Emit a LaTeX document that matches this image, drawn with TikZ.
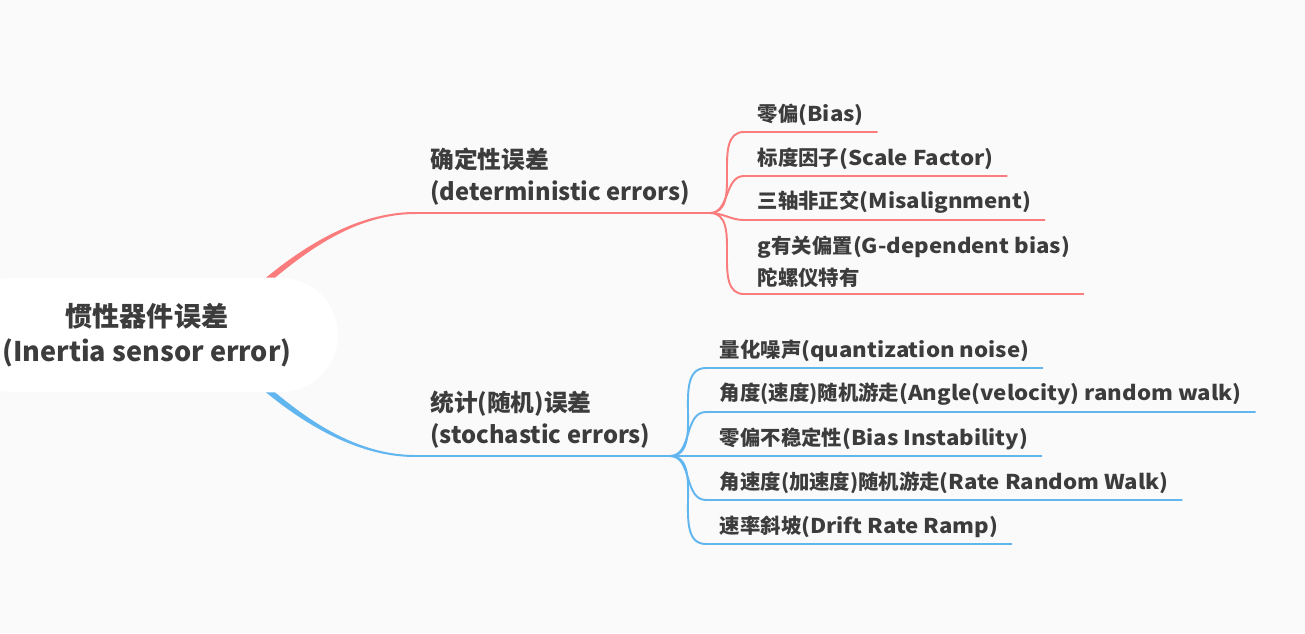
\documentclass[tikz,border=0pt]{standalone}
\usepackage{fontspec}
\setmainfont{Noto Sans CJK SC}
\newfontfamily\widelat{Noto Sans CJK SC}[FakeStretch=1.09]
\newcommand{\latw}[1]{{\widelat #1}}
\usetikzlibrary{calc}

\definecolor{bgc}{RGB}{250,250,250}
\definecolor{redc}{RGB}{250,124,124}
\definecolor{bluec}{RGB}{98,182,240}
\definecolor{txtc}{RGB}{60,60,60}

\tikzset{
  rootnode/.style={fill=white, rounded corners=1.14cm, minimum width=7.64cm, minimum height=2.28cm,
    align=center, text=txtc, font=\fontsize{15.4}{19.8}\selectfont\bfseries},
  branchnode/.style={anchor=south west, align=left, inner xsep=0.3cm, inner ysep=0.14cm,
    text=txtc, font=\fontsize{13.5}{18.1}\selectfont\bfseries},
  leafnode/.style={anchor=south west, align=left, inner xsep=0.27cm, inner ysep=0.12cm,
    text=txtc, font=\fontsize{11.6}{18.1}\selectfont\bfseries},
  redline/.style={draw=redc, line width=1.1pt},
  blueline/.style={draw=bluec, line width=1.1pt}
}

\begin{document}
\begin{tikzpicture}[x=0.02cm, y=-0.02cm]
        \useasboundingbox (0,0) rectangle (1305,633);
        \fill[bgc] (0,0) rectangle (1305,633);

        % Root topic
        \node[rootnode] (root) at (147,335) {惯性器件误差\\(Inertia sensor error)};

        % Main branches
        \node[branchnode] (det) at (415,213) {确定性误差\\(deterministic errors)};
        \node[branchnode] (sto) at (415,456) {统计(随机)误差\\(stochastic errors)};
        \coordinate (forkA) at (710,213);
        \coordinate (forkB) at (670,456);

        % Tapered links from the root
        \path (root.north) ++(119,0) coordinate (ra1) ++(9,0) coordinate (ra2);
        \path (root.south) ++(119,0) coordinate (rb1) ++(9,0) coordinate (rb2);
        \fill[redc] (ra1) .. controls +(34,-28) and +(-60,0) .. ($(det.south west)+(0,-1)$)
            -- ($(det.south west)+(0,1)$) .. controls +(-58,0) and +(34,-28) .. (ra2) -- cycle;
        \fill[bluec] (rb1) .. controls +(34,28) and +(-60,0) .. ($(sto.south west)+(0,1)$)
            -- ($(sto.south west)+(0,-1)$) .. controls +(-58,0) and +(34,28) .. (rb2) -- cycle;
        \draw[redline] (det.south west) -- (forkA);
        \draw[blueline] (sto.south west) -- (forkB);

        % Deterministic errors
        \node[leafnode] (bias) at (744,132) {零偏\latw{(Bias)}};
        \node[leafnode] (scale) at (744,176) {标度因子\latw{(Scale Factor)}};
        \node[leafnode] (misal) at (744,220) {三轴非正交\latw{(Misalignment)}};
        \node[leafnode] (gdep) at (744,294) {\latw{g}有关偏置\latw{(G-dependent bias)}\\陀螺仪特有};
        \foreach \n in {bias,scale,misal,gdep}
            \draw[redline] (forkA) to[out=0,in=180] (\n.south west) -- (\n.south east);

        % Stochastic errors
        \node[leafnode] (quant) at (706,368) {量化噪声\latw{(quantization noise)}};
        \node[leafnode] (arw) at (706,412) {角度(速度)随机游走\latw{(Angle(velocity) random walk)}};
        \node[leafnode] (binst) at (706,456) {零偏不稳定性\latw{(Bias Instability)}};
        \node[leafnode] (rrw) at (706,500) {角速度(加速度)随机游走\latw{(Rate Random Walk)}};
        \node[leafnode] (ramp) at (706,544) {速率斜坡\latw{(Drift Rate Ramp)}};
        \foreach \n in {quant,arw,binst,rrw,ramp}
            \draw[blueline] (forkB) to[out=0,in=180] (\n.south west) -- (\n.south east);
\end{tikzpicture}
\end{document}
